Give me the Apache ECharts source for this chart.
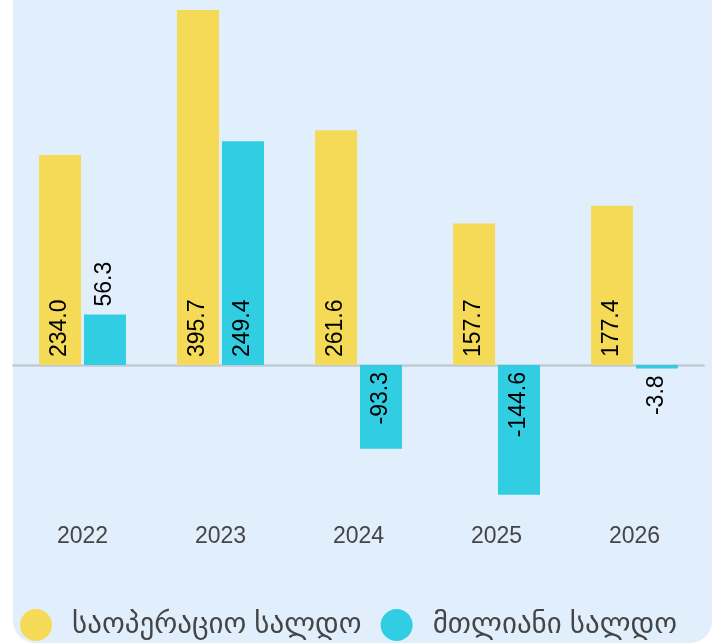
<!DOCTYPE html>
<html>
<head>
<meta charset="utf-8">
<script src="https://cdn.jsdelivr.net/npm/echarts@6/dist/echarts.min.js"></script>
<style>
  html, body { margin: 0; padding: 0; background: #ffffff; overflow: hidden; }
  #panel { position: absolute; left: 13px; top: -40px; width: 699px; height: 683px; background: #e1effd; border-radius: 22px; }
  #chart { position: absolute; left: 0; top: 0; width: 720px; height: 643px; }
</style>
</head>
<body>
<div id="panel"></div>
<div id="chart"></div>
<script>
const categories = ['2022', '2023', '2024', '2025', '2026'];
const seriesNames = ['საოპერაციო სალდო', 'მთლიანი სალდო'];
const operatingBalance = [234.0, 395.7, 261.6, 157.7, 177.4];
const overallBalance = [56.3, 249.4, -93.3, -144.6, -3.8];
const colors = ['#f4da57', '#31cde2'];

const FONT = 'Arial, "Liberation Sans", "DejaVu Sans", sans-serif';

function labelFor(v) {
  const inside = Math.abs(v) >= 60;
  let position, align;
  if (v >= 0) { position = inside ? 'insideBottom' : 'top'; align = 'left'; }
  else { position = inside ? 'insideTop' : 'bottom'; align = 'right'; }
  return {
    show: true, position: position, rotate: 90, align: align, verticalAlign: 'middle',
    distance: v >= 0 ? 8 : 7, color: '#000', fontSize: 23, fontFamily: FONT,
    formatter: function (p) { return p.value.toFixed(1); }
  };
}
function buildData(arr) { return arr.map(v => ({ value: v, label: labelFor(v) })); }

const chart = echarts.init(document.getElementById('chart'), null, { renderer: 'canvas' });
chart.setOption({
  backgroundColor: 'transparent',
  animation: false,
  grid: { left: 13.5, right: 16.5, top: 6.16, bottom: 143.43, containLabel: false },
  xAxis: [
    {
      type: 'category', data: categories, position: 'bottom',
      axisLine: { show: false, onZero: false }, axisTick: { show: false },
      axisLabel: { color: '#454545', fontSize: 23, fontFamily: FONT, margin: 26 },
      splitLine: { show: false }
    },
    {
      type: 'category', data: categories, position: 'bottom',
      axisLine: { show: true, onZero: true, lineStyle: { color: '#c2cad5', width: 2.5 } },
      axisTick: { show: false }, axisLabel: { show: false }, splitLine: { show: false }
    }
  ],
  yAxis: { type: 'value', min: -150, max: 400, show: false, splitLine: { show: false } },
  legend: {
    data: seriesNames, left: 20, top: 609, padding: 0,
    icon: 'circle', itemWidth: 32, itemHeight: 32, itemGap: 19,
    textStyle: { color: '#454545', fontSize: 29, fontFamily: FONT, padding: [0, 0, 0, 15] }
  },
  series: [
    { name: seriesNames[0], type: 'bar', xAxisIndex: 0, data: buildData(operatingBalance),
      itemStyle: { color: colors[0] }, barWidth: 42, barGap: '7%' },
    { name: seriesNames[1], type: 'bar', xAxisIndex: 0, data: buildData(overallBalance),
      itemStyle: { color: colors[1] }, barWidth: 42, barGap: '7%' }
  ]
});
</script>
</body>
</html>
